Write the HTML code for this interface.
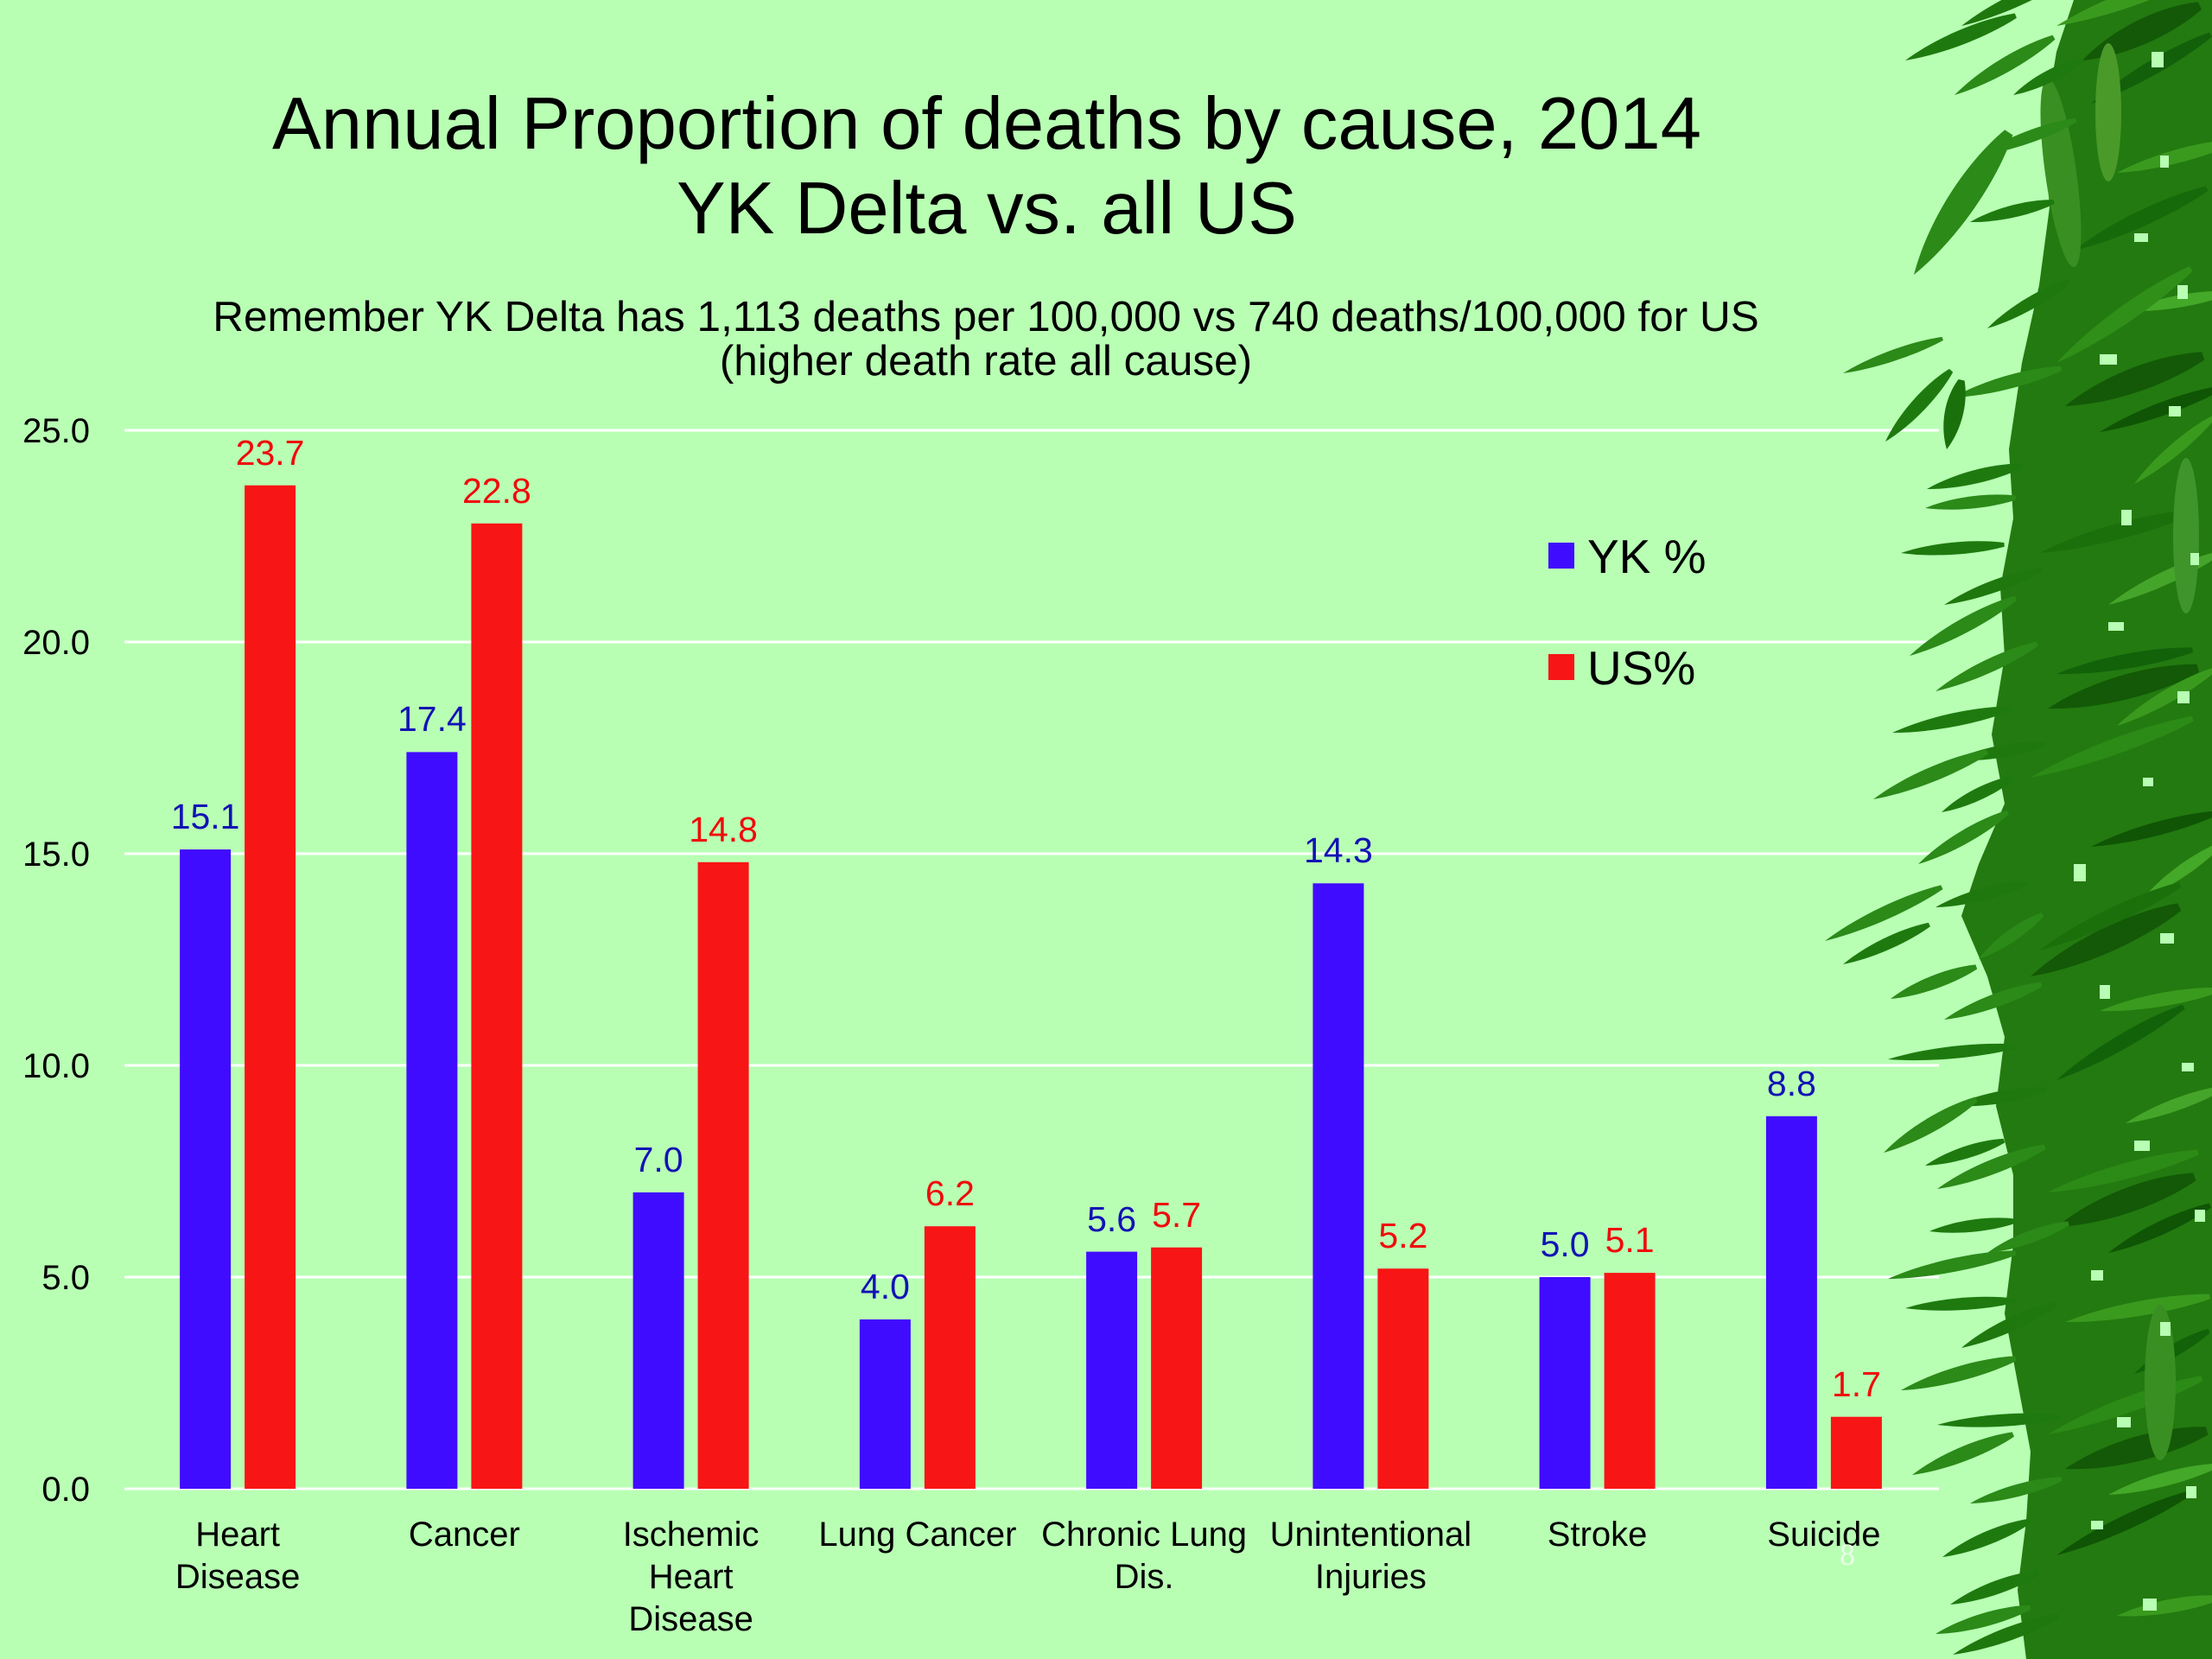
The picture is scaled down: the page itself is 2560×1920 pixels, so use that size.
<!DOCTYPE html>
<html><head><meta charset="utf-8"><style>
html,body{margin:0;padding:0;background:#b8ffb4;}
svg{display:block;}
text{font-family:"Liberation Sans",Arial,sans-serif;}
</style></head><body>
<svg width="2560" height="1920" viewBox="0 0 2560 1920" xmlns="http://www.w3.org/2000/svg">
<defs>
<path id="lf" d="M0,0 C0.3,-0.45 0.7,-0.5 1,-0.12 L1,0.12 C0.7,0.45 0.3,0.4 0,0Z"/>
</defs>
<rect x="0" y="0" width="2560" height="1920" fill="#b8ffb4"/>

<!-- Title -->
<text x="1142" y="172" font-size="85" text-anchor="middle" fill="#000">Annual Proportion of deaths by cause, 2014</text>
<text x="1142" y="270" font-size="85" text-anchor="middle" fill="#000">YK Delta vs. all US</text>
<text x="1141" y="383" font-size="49.5" text-anchor="middle" fill="#000">Remember YK Delta has 1,113 deaths per 100,000 vs 740 deaths/100,000 for US</text>
<text x="1141" y="434" font-size="49.5" text-anchor="middle" fill="#000">(higher death rate all cause)</text>

<!-- Gridlines -->
<g stroke="#ffffff" stroke-width="3">
<line x1="144" y1="498" x2="2244" y2="498"/>
<line x1="144" y1="743" x2="2244" y2="743"/>
<line x1="144" y1="988" x2="2244" y2="988"/>
<line x1="144" y1="1233" x2="2244" y2="1233"/>
<line x1="144" y1="1478" x2="2244" y2="1478"/>
<line x1="144" y1="1723" x2="2244" y2="1723"/>
</g>

<!-- Y labels -->
<g font-size="40" text-anchor="end" fill="#000">
<text x="104" y="512">25.0</text>
<text x="104" y="757">20.0</text>
<text x="104" y="1002">15.0</text>
<text x="104" y="1247">10.0</text>
<text x="104" y="1492">5.0</text>
<text x="104" y="1737">0.0</text>
</g>

<!-- Bars -->
<g fill="#400cff">
<rect x="208.1" y="983.1" width="59" height="739.9"/>
<rect x="470.4" y="870.4" width="59" height="852.6"/>
<rect x="732.6" y="1380" width="59" height="343"/>
<rect x="994.9" y="1527" width="59" height="196"/>
<rect x="1257.1" y="1448.6" width="59" height="274.4"/>
<rect x="1519.4" y="1022.3" width="59" height="700.7"/>
<rect x="1781.6" y="1478" width="59" height="245"/>
<rect x="2043.9" y="1291.8" width="59" height="431.2"/>
</g>
<g fill="#f81515">
<rect x="283.1" y="561.7" width="59" height="1161.3"/>
<rect x="545.4" y="605.8" width="59" height="1117.2"/>
<rect x="807.6" y="997.8" width="59" height="725.2"/>
<rect x="1069.9" y="1419.2" width="59" height="303.8"/>
<rect x="1332.1" y="1443.7" width="59" height="279.3"/>
<rect x="1594.4" y="1468.2" width="59" height="254.8"/>
<rect x="1856.6" y="1473.1" width="59" height="249.9"/>
<rect x="2118.9" y="1639.7" width="59" height="83.3"/>
</g>

<!-- Data labels -->
<g font-size="41" text-anchor="middle" fill="#1212b4">
<text x="237.6" y="959">15.1</text>
<text x="499.9" y="846">17.4</text>
<text x="762.1" y="1356">7.0</text>
<text x="1024.4" y="1503">4.0</text>
<text x="1286.6" y="1425">5.6</text>
<text x="1548.9" y="998">14.3</text>
<text x="1811.1" y="1454">5.0</text>
<text x="2073.4" y="1268">8.8</text>
</g>
<g font-size="41" text-anchor="middle" fill="#f00a0a">
<text x="312.6" y="538">23.7</text>
<text x="574.9" y="582">22.8</text>
<text x="837.1" y="974">14.8</text>
<text x="1099.4" y="1395">6.2</text>
<text x="1361.6" y="1420">5.7</text>
<text x="1623.9" y="1444">5.2</text>
<text x="1886.1" y="1449">5.1</text>
<text x="2148.4" y="1616">1.7</text>
</g>

<!-- X labels -->
<g font-size="40" text-anchor="middle" fill="#000">
<text x="275.1" y="1789">Heart</text>
<text x="275.1" y="1838">Disease</text>
<text x="537.4" y="1789">Cancer</text>
<text x="799.6" y="1789">Ischemic</text>
<text x="799.6" y="1838">Heart</text>
<text x="799.6" y="1887">Disease</text>
<text x="1061.9" y="1789">Lung Cancer</text>
<text x="1324.1" y="1789">Chronic Lung</text>
<text x="1324.1" y="1838">Dis.</text>
<text x="1586.4" y="1789">Unintentional</text>
<text x="1586.4" y="1838">Injuries</text>
<text x="1848.6" y="1789">Stroke</text>
<text x="2110.9" y="1789">Suicide</text>
</g>

<!-- Legend -->
<rect x="1792" y="628" width="30" height="30" fill="#400cff"/>
<text x="1837" y="663" font-size="55" fill="#000">YK %</text>
<rect x="1792" y="757" width="30" height="30" fill="#f81515"/>
<text x="1837" y="792" font-size="55" fill="#000">US%</text>

<!-- Bamboo -->
<polygon fill="#237a10" points="2400,0 2380,60 2365,150 2372,240 2360,330 2340,420 2325,520 2330,600 2315,680 2320,760 2305,850 2320,930 2290,1000 2270,1060 2300,1130 2320,1200 2310,1280 2330,1360 2330,1440 2320,1520 2335,1600 2350,1680 2345,1760 2335,1840 2345,1920 2560,1920 2560,0"/>

<!-- shadow patches -->
<g fill="#0f5205" opacity="0.8">
<use href="#lf" transform="translate(2410,70) rotate(-25) scale(150,40)"/>
<use href="#lf" transform="translate(2390,470) rotate(-20) scale(170,40)"/>
<use href="#lf" transform="translate(2370,820) rotate(-15) scale(180,40)"/>
<use href="#lf" transform="translate(2350,1130) rotate(-25) scale(190,40)"/>
<use href="#lf" transform="translate(2380,1420) rotate(-20) scale(170,40)"/>
<use href="#lf" transform="translate(2390,1700) rotate(-15) scale(170,40)"/>
</g>

<!-- interior texture leaves -->
<g>
<use href="#lf" transform="translate(2380,30) rotate(-20) scale(180,26)" fill="#3a9a1e"/>
<use href="#lf" transform="translate(2420,120) rotate(-30) scale(160,24)" fill="#13600a"/>
<use href="#lf" transform="translate(2450,200) rotate(-15) scale(140,22)" fill="#3a9a1e"/>
<use href="#lf" transform="translate(2400,290) rotate(-25) scale(170,26)" fill="#176a0a"/>
<use href="#lf" transform="translate(2460,360) rotate(-10) scale(120,20)" fill="#44a828"/>
<use href="#lf" transform="translate(2380,420) rotate(-35) scale(190,28)" fill="#2f8f18"/>
<use href="#lf" transform="translate(2430,500) rotate(-20) scale(150,22)" fill="#0f5505"/>
<use href="#lf" transform="translate(2470,560) rotate(-40) scale(120,20)" fill="#3a9a1e"/>
<use href="#lf" transform="translate(2360,640) rotate(-15) scale(180,26)" fill="#1b700c"/>
<use href="#lf" transform="translate(2440,700) rotate(-25) scale(140,22)" fill="#45a52a"/>
<use href="#lf" transform="translate(2380,780) rotate(-10) scale(160,24)" fill="#12620a"/>
<use href="#lf" transform="translate(2450,840) rotate(-30) scale(130,22)" fill="#3a9a1e"/>
<use href="#lf" transform="translate(2350,900) rotate(-20) scale(200,26)" fill="#2c8a16"/>
<use href="#lf" transform="translate(2420,980) rotate(-15) scale(150,22)" fill="#0f5505"/>
<use href="#lf" transform="translate(2480,1040) rotate(-35) scale(110,20)" fill="#44a828"/>
<use href="#lf" transform="translate(2360,1100) rotate(-25) scale(180,26)" fill="#1b700c"/>
<use href="#lf" transform="translate(2430,1170) rotate(-10) scale(140,22)" fill="#3a9a1e"/>
<use href="#lf" transform="translate(2380,1250) rotate(-30) scale(170,24)" fill="#12620a"/>
<use href="#lf" transform="translate(2460,1300) rotate(-20) scale(120,20)" fill="#45a52a"/>
<use href="#lf" transform="translate(2370,1380) rotate(-15) scale(180,26)" fill="#2c8a16"/>
<use href="#lf" transform="translate(2440,1450) rotate(-25) scale(130,22)" fill="#0f5505"/>
<use href="#lf" transform="translate(2390,1530) rotate(-10) scale(170,24)" fill="#3a9a1e"/>
<use href="#lf" transform="translate(2470,1590) rotate(-30) scale(100,20)" fill="#12620a"/>
<use href="#lf" transform="translate(2370,1660) rotate(-20) scale(190,26)" fill="#2c8a16"/>
<use href="#lf" transform="translate(2440,1730) rotate(-15) scale(130,22)" fill="#44a828"/>
<use href="#lf" transform="translate(2380,1800) rotate(-25) scale(170,24)" fill="#0f5505"/>
<use href="#lf" transform="translate(2450,1870) rotate(-10) scale(120,22)" fill="#3a9a1e"/>
</g>
<g>
<ellipse cx="2385" cy="200" rx="18" ry="110" transform="rotate(-8 2385 200)" fill="#3a8f22"/>
<ellipse cx="2440" cy="130" rx="15" ry="80" fill="#4a9a2a"/>
<ellipse cx="2500" cy="1600" rx="18" ry="90" fill="#3a8f22"/>
<ellipse cx="2530" cy="620" rx="15" ry="90" fill="#3f952a"/>
</g>
<g fill="#b8ffb4">
<rect x="2490" y="60" width="14" height="18"/>
<rect x="2500" y="180" width="10" height="14"/>
<rect x="2470" y="270" width="16" height="10"/>
<rect x="2520" y="330" width="12" height="16"/>
<rect x="2430" y="410" width="20" height="12"/>
<rect x="2510" y="470" width="14" height="12"/>
<rect x="2455" y="590" width="12" height="18"/>
<rect x="2535" y="640" width="10" height="14"/>
<rect x="2440" y="720" width="18" height="10"/>
<rect x="2520" y="800" width="14" height="14"/>
<rect x="2480" y="900" width="12" height="10"/>
<rect x="2400" y="1000" width="14" height="20"/>
<rect x="2500" y="1080" width="16" height="12"/>
<rect x="2430" y="1140" width="12" height="16"/>
<rect x="2525" y="1230" width="14" height="10"/>
<rect x="2470" y="1320" width="18" height="12"/>
<rect x="2540" y="1400" width="12" height="14"/>
<rect x="2420" y="1470" width="14" height="12"/>
<rect x="2500" y="1530" width="12" height="16"/>
<rect x="2450" y="1640" width="16" height="12"/>
<rect x="2530" y="1720" width="12" height="14"/>
<rect x="2420" y="1760" width="14" height="10"/>
<rect x="2480" y="1850" width="16" height="14"/>
</g>

<!-- edge leaves softening silhouette -->
<g fill="#1f780d">
<use href="#lf" transform="translate(2270,30) rotate(-25) scale(140,22)"/>
<use href="#lf" transform="translate(2290,180) rotate(-20) scale(120,20)" fill="#2b8a18"/>
<use href="#lf" transform="translate(2300,380) rotate(-30) scale(110,20)"/>
<use href="#lf" transform="translate(2260,460) rotate(-15) scale(130,22)" fill="#2b8a18"/>
<use href="#lf" transform="translate(2250,700) rotate(-20) scale(120,20)"/>
<use href="#lf" transform="translate(2240,800) rotate(-25) scale(130,22)" fill="#2b8a18"/>
<use href="#lf" transform="translate(2260,880) rotate(-10) scale(110,20)"/>
<use href="#lf" transform="translate(2220,1000) rotate(-30) scale(120,22)" fill="#2b8a18"/>
<use href="#lf" transform="translate(2240,1050) rotate(-15) scale(110,20)"/>
<use href="#lf" transform="translate(2250,1180) rotate(-20) scale(120,22)" fill="#2b8a18"/>
<use href="#lf" transform="translate(2260,1280) rotate(-10) scale(110,20)"/>
<use href="#lf" transform="translate(2300,1450) rotate(-20) scale(100,20)" fill="#2b8a18"/>
<use href="#lf" transform="translate(2270,1560) rotate(-25) scale(120,22)"/>
<use href="#lf" transform="translate(2280,1740) rotate(-15) scale(110,20)" fill="#2b8a18"/>
<use href="#lf" transform="translate(2260,1915) rotate(-20) scale(130,22)"/>
<use href="#lf" transform="translate(2290,1110) rotate(-35) scale(90,20)" fill="#2b8a18"/>
</g>

<!-- outer leaves extending left -->
<g fill="#1e7a0e">
<use href="#lf" transform="translate(2205,70) rotate(-22.1) scale(138,24)"/>
<use href="#lf" transform="translate(2262,110) rotate(-30.2) scale(133,24)" fill="#2b8a18"/>
<use href="#lf" transform="translate(2330,110) rotate(-27) scale(90,20)"/>
<use href="#lf" transform="translate(2215,318) rotate(-56.3) scale(198,46)" fill="#2b8a18"/>
<use href="#lf" transform="translate(2280,257) rotate(-13.6) scale(100,20)"/>
<use href="#lf" transform="translate(2133,432) rotate(-19.2) scale(122,18)" fill="#2b8a18"/>
<use href="#lf" transform="translate(2182,511) rotate(-47.2) scale(112,24)"/>
<use href="#lf" transform="translate(2253,520) rotate(-78) scale(82,30)" fill="#1a700b"/>
<use href="#lf" transform="translate(2230,566) rotate(-13.8) scale(113,22)"/>
<use href="#lf" transform="translate(2228,588) rotate(-6.5) scale(106,20)" fill="#2b8a18"/>
<use href="#lf" transform="translate(2200,640) rotate(-4.6) scale(120,20)"/>
<use href="#lf" transform="translate(2210,759) rotate(-28.6) scale(140,24)" fill="#2b8a18"/>
<use href="#lf" transform="translate(2190,848) rotate(-11.5) scale(140,22)"/>
<use href="#lf" transform="translate(2168,925) rotate(-22.6) scale(143,24)" fill="#2b8a18"/>
<use href="#lf" transform="translate(2247,940) rotate(-25.7) scale(92,20)"/>
<use href="#lf" transform="translate(2112,1089) rotate(-24.7) scale(149,22)" fill="#2b8a18"/>
<use href="#lf" transform="translate(2133,1116) rotate(-24.7) scale(110,20)"/>
<use href="#lf" transform="translate(2188,1156) rotate(-20.5) scale(106,22)" fill="#2b8a18"/>
<use href="#lf" transform="translate(2185,1226) rotate(-5.8) scale(149,20)"/>
<use href="#lf" transform="translate(2180,1334) rotate(-30) scale(124,24)" fill="#2b8a18"/>
<use href="#lf" transform="translate(2228,1349) rotate(-17.5) scale(96,20)"/>
<use href="#lf" transform="translate(2242,1376) rotate(-21.4) scale(134,24)" fill="#2b8a18"/>
<use href="#lf" transform="translate(2233,1425) rotate(-6.8) scale(101,20)"/>
<use href="#lf" transform="translate(2185,1480) rotate(-11.5) scale(151,22)" fill="#2b8a18"/>
<use href="#lf" transform="translate(2205,1514) rotate(-4) scale(128,20)"/>
<use href="#lf" transform="translate(2200,1609) rotate(-15.5) scale(138,24)" fill="#2b8a18"/>
<use href="#lf" transform="translate(2242,1649) rotate(-3.7) scale(141,20)"/>
<use href="#lf" transform="translate(2213,1707) rotate(-21.9) scale(126,24)" fill="#2b8a18"/>
<use href="#lf" transform="translate(2248,1802) rotate(-22.4) scale(110,22)"/>
<use href="#lf" transform="translate(2240,1891) rotate(-15.7) scale(114,22)" fill="#2b8a18"/>
<use href="#lf" transform="translate(2257,1857) rotate(-19.8) scale(109,22)"/>
</g>

<!-- slide number -->
<text x="2138" y="1811" font-size="36" text-anchor="middle" fill="#eaffea" style="font-family:'Liberation Serif',serif">8</text>
</svg>
</body></html>
